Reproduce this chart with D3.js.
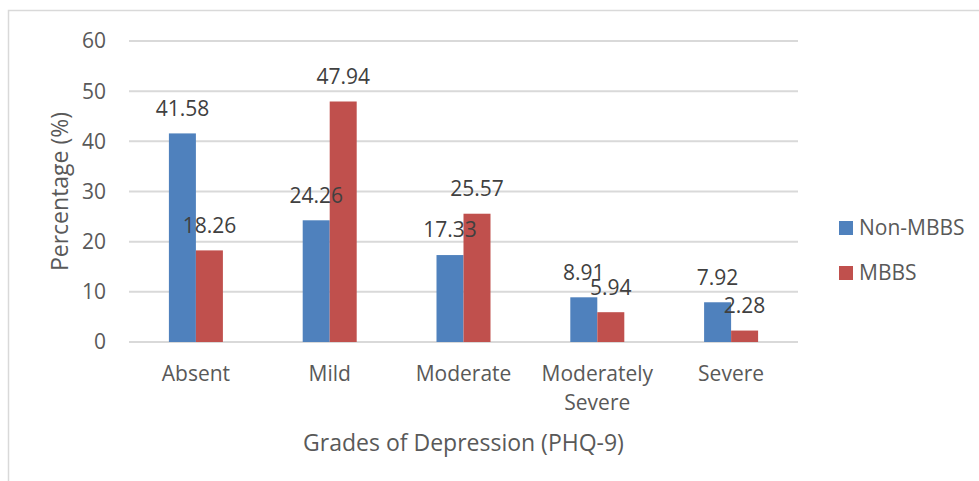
<!DOCTYPE html>
<meta charset="utf-8">
<style>
body { margin: 0; background: #fff; }
svg text { font-family: "Open Sans", "Noto Sans", sans-serif; }
.grid line { stroke: #d9d9d9; stroke-width: 2px; }
.tick-label { font-size: 21px; fill: #595959; }
.value { font-size: 21px; fill: #404040; }
.axis-title { font-size: 23px; fill: #595959; }
.legend text { font-size: 21px; fill: #595959; }
</style>
<svg width="979" height="481"></svg>
<script src="https://cdn.jsdelivr.net/npm/d3@7"></script>
<script>

var categories = ["Absent", "Mild", "Moderate", "Moderately Severe", "Severe"]
var seriesNames = ["Non-MBBS", "MBBS"]
var nonMbbs = [41.58, 24.26, 17.33, 8.91, 7.92]
var mbbs = [18.26, 47.94, 25.57, 5.94, 2.28]
var yTicks = [0, 10, 20, 30, 40, 50, 60]
var colors = ["#4f81bd", "#c0504d"]

var svg = d3.select("svg")

// chart border (right and bottom fall outside the picture)
svg.append("rect")
    .attr("x", 8.5).attr("y", 10.5)
    .attr("width", 1000).attr("height", 500)
    .attr("fill", "none")
    .attr("stroke", "#d9d9d9")
    .attr("stroke-width", 1.5)

var plotLeft = 129, plotRight = 798, plotTop = 41, plotBottom = 342

var x0 = d3.scaleBand().domain(categories).range([plotLeft, plotRight]).padding(0)
var barW = 27
var x1 = d3.scaleBand().domain(seriesNames)
    .range([(x0.bandwidth() - 2 * barW) / 2, (x0.bandwidth() + 2 * barW) / 2])
var y = d3.scaleLinear().domain([0, 60]).range([plotBottom, plotTop])

// gridlines
svg.append("g").attr("class", "grid")
  .selectAll("line")
  .data(yTicks)
  .enter().append("line")
    .attr("x1", plotLeft).attr("x2", plotRight)
    .attr("y1", function(d) { return y(d); })
    .attr("y2", function(d) { return y(d); })

// y tick labels
svg.append("g")
  .selectAll("text")
  .data(yTicks)
  .enter().append("text")
    .attr("class", "tick-label")
    .attr("x", 106)
    .attr("y", function(d) { return y(d); })
    .attr("dy", "0.35em")
    .attr("text-anchor", "end")
    .text(function(d) { return d; })

var rows = categories.map(function(c, i) {
  return { cat: c, vals: [
    { s: seriesNames[0], v: nonMbbs[i], c: colors[0] },
    { s: seriesNames[1], v: mbbs[i], c: colors[1] }
  ] }
})

var groups = svg.append("g")
  .selectAll("g")
  .data(rows)
  .enter().append("g")
    .attr("transform", function(d) { return "translate(" + x0(d.cat) + ",0)"; })

groups.selectAll("rect")
  .data(function(d) { return d.vals; })
  .enter().append("rect")
    .attr("x", function(d) { return x1(d.s); })
    .attr("width", x1.bandwidth())
    .attr("y", function(d) { return y(d.v); })
    .attr("height", function(d) { return y(0) - y(d.v); })
    .attr("fill", function(d) { return d.c; })

// value labels drawn on top of all bars
var labels = svg.append("g")
labels.selectAll("g")
  .data(rows)
  .enter().append("g")
    .attr("transform", function(d) { return "translate(" + x0(d.cat) + ",0)"; })
  .selectAll("text")
  .data(function(d) { return d.vals; })
  .enter().append("text")
    .attr("class", "value")
    .attr("x", function(d) { return x1(d.s) + x1.bandwidth() / 2; })
    .attr("y", function(d) { return y(d.v) - 25; })
    .attr("dy", "0.35em")
    .attr("text-anchor", "middle")
    .text(function(d) { return d.v.toFixed(2); })

// category labels
svg.append("g")
  .selectAll("text")
  .data(categories)
  .enter().append("text")
    .attr("class", "tick-label")
    .attr("text-anchor", "middle")
    .attr("x", function(d) { return x0(d) + x0.bandwidth() / 2; })
    .attr("y", 374)
    .each(function(d) {
      var words = d.split(" ")
      var t = d3.select(this)
      words.forEach(function(w, i) {
        t.append("tspan")
          .attr("x", x0(d) + x0.bandwidth() / 2)
          .attr("dy", i === 0 ? "0.35em" : 29)
          .text(w)
      })
    })

// axis titles
svg.append("text")
    .attr("class", "axis-title")
    .attr("x", (plotLeft + plotRight) / 2)
    .attr("y", 443)
    .attr("dy", "0.35em")
    .attr("text-anchor", "middle")
    .text("Grades of Depression (PHQ-9)")

svg.append("text")
    .attr("class", "axis-title")
    .attr("transform", "translate(60," + ((plotTop + plotBottom) / 2) + ") rotate(-90)")
    .attr("dy", "0.35em")
    .attr("text-anchor", "middle")
    .text("Percentage (%)")

// legend
var legend = svg.append("g").attr("class", "legend")
  .selectAll("g")
  .data(seriesNames)
  .enter().append("g")
    .attr("transform", function(d, i) { return "translate(839," + (221 + i * 45) + ")"; })

legend.append("rect")
    .attr("width", 14).attr("height", 14)
    .attr("fill", function(d, i) { return colors[i]; })

legend.append("text")
    .attr("x", 20).attr("y", 7)
    .attr("dy", "0.35em")
    .text(function(d) { return d; })

</script>
